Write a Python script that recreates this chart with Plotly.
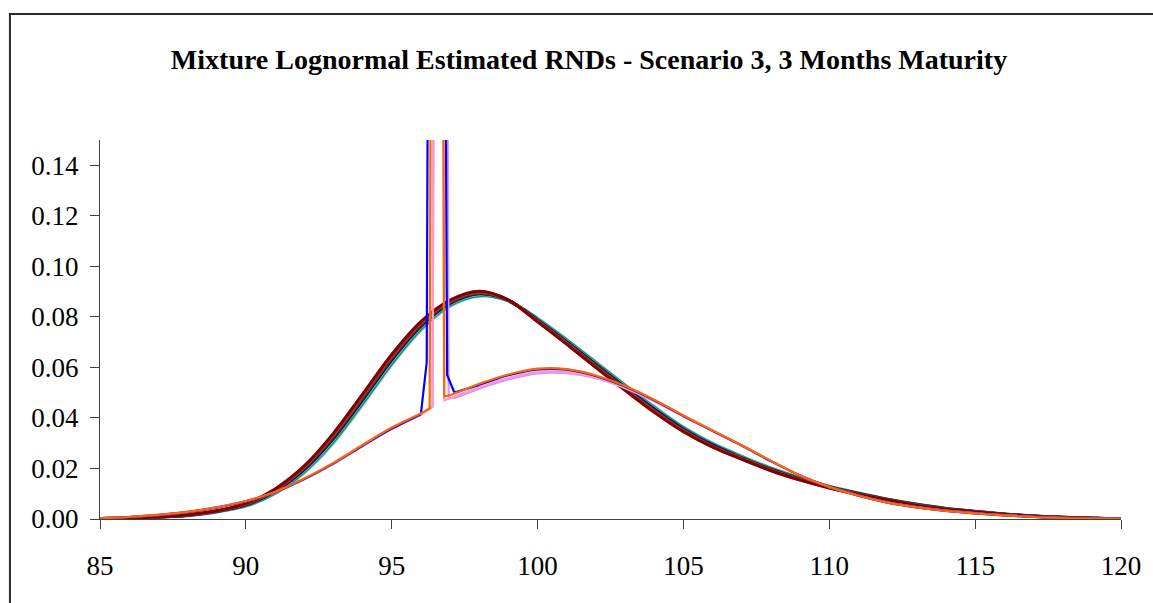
import plotly.graph_objects as go

# ---------------- data ----------------
x_grid = list(range(85, 121))          # strike grid for the bundle of smooth RNDs

# bundle of well-behaved mixture-lognormal RNDs (values at 85..120)
rnd_lightgreen = [.0002,.0004,.0007,.0013,.0027,.0050,.0098,.0180,.0297,.0447,.0606,.0744,.0840,.0880,.0862,.0796,.0713,.0624,.0534,.0447,.0366,.0301,.0250,.0203,.0164,.0131,.0104,.0079,.0059,.0043,.0031,.0020,.0012,.0007,.0003,.0001]
rnd_gray       = [.0002,.0004,.0007,.0013,.0028,.0051,.0101,.0184,.0302,.0453,.0611,.0748,.0843,.0883,.0863,.0794,.0710,.0621,.0531,.0444,.0363,.0299,.0248,.0202,.0163,.0130,.0103,.0078,.0058,.0043,.0031,.0020,.0012,.0007,.0003,.0001]
rnd_teal       = [.0002,.0004,.0008,.0014,.0029,.0053,.0103,.0188,.0308,.0459,.0617,.0753,.0847,.0885,.0863,.0792,.0708,.0618,.0528,.0441,.0361,.0297,.0247,.0200,.0162,.0129,.0102,.0078,.0058,.0042,.0030,.0020,.0012,.0007,.0003,.0001]
rnd_cyan       = [.0002,.0004,.0008,.0015,.0029,.0055,.0106,.0191,.0313,.0465,.0623,.0758,.0850,.0888,.0864,.0790,.0705,.0615,.0525,.0438,.0358,.0295,.0245,.0198,.0160,.0128,.0101,.0077,.0057,.0041,.0030,.0019,.0012,.0007,.0003,.0001]
rnd_navy       = [.0002,.0004,.0008,.0015,.0030,.0056,.0109,.0195,.0318,.0471,.0629,.0763,.0853,.0891,.0865,.0788,.0702,.0612,.0522,.0435,.0356,.0293,.0243,.0197,.0159,.0127,.0101,.0077,.0057,.0041,.0030,.0019,.0012,.0007,.0003,.0001]
rnd_olive      = [.0002,.0004,.0008,.0015,.0031,.0057,.0111,.0199,.0323,.0476,.0634,.0767,.0856,.0893,.0865,.0786,.0699,.0609,.0519,.0432,.0353,.0290,.0241,.0196,.0158,.0126,.0100,.0076,.0056,.0041,.0029,.0019,.0011,.0006,.0003,.0001]
rnd_brown      = [.0002,.0004,.0008,.0016,.0032,.0059,.0114,.0203,.0329,.0482,.0640,.0772,.0860,.0896,.0866,.0784,.0697,.0605,.0515,.0428,.0350,.0288,.0240,.0194,.0157,.0125,.0099,.0075,.0055,.0040,.0029,.0019,.0011,.0006,.0003,.0001]
rnd_plum       = [.0002,.0004,.0009,.0017,.0032,.0061,.0116,.0206,.0334,.0488,.0646,.0777,.0863,.0898,.0866,.0782,.0694,.0602,.0512,.0425,.0348,.0286,.0238,.0192,.0155,.0124,.0098,.0075,.0055,.0039,.0028,.0018,.0011,.0006,.0003,.0001]
rnd_maroon     = [.0002,.0004,.0009,.0017,.0033,.0062,.0119,.0210,.0339,.0494,.0651,.0781,.0866,.0901,.0867,.0780,.0691,.0599,.0509,.0422,.0345,.0284,.0236,.0191,.0154,.0123,.0097,.0074,.0054,.0039,.0028,.0018,.0011,.0006,.0003,.0001]

# degenerate (spiked) RNDs: left tail 85..96, spike segment, right tail 98..120
x_left = list(range(85, 97))
x_right = list(range(98, 121))

lav_left   = [.0003,.0009,.0017,.0029,.0047,.0071,.0106,.0157,.0218,.0288,.0356,.0412]
lav_spk_x  = [96.4, 96.7, 96.95, 97.15]
lav_spk_y  = [.0445, 1.0, .0478, .0478]
lav_right  = [.0516,.0552,.0576,.0577,.0557,.0518,.0466,.0406,.0348,.0291,.0229,.0172,.0127,.0093,.0066,.0047,.0033,.0023,.0015,.0009,.0005,.0002,.0001]

pink_left  = [.0003,.0008,.0015,.0027,.0045,.0070,.0106,.0158,.0219,.0290,.0358,.0414]
pink_spk_x = [96.4, 96.6, 96.8, 97.0]
pink_spk_y = [.0450, 1.0, .0470, .0478]
pink_right = [.0522,.0558,.0582,.0582,.0560,.0520,.0467,.0406,.0348,.0290,.0229,.0171,.0127,.0092,.0065,.0046,.0032,.0022,.0014,.0008,.0004,.0002,.0001]

blue_left  = [.0003,.0008,.0015,.0027,.0045,.0070,.0106,.0158,.0220,.0290,.0358,.0415]
blue_spk_x = [96.2, 96.5, 96.9, 97.15]
blue_spk_y = [.0620, 1.0, .0570, .0500]
blue_right = [.0531,.0569,.0592,.0591,.0566,.0524,.0470,.0408,.0349,.0291,.0229,.0172,.0127,.0092,.0065,.0046,.0032,.0022,.0014,.0008,.0004,.0002,.0001]

orng_left  = [.0003,.0008,.0016,.0028,.0046,.0071,.0107,.0160,.0222,.0293,.0362,.0418]
orng_spk_x = [96.3, 96.55, 96.8, 97.0]
orng_spk_y = [.0437, 1.0, .0485, .0490]
orng_right = [.0535,.0572,.0595,.0593,.0568,.0526,.0472,.0410,.0350,.0292,.0230,.0172,.0127,.0092,.0065,.0046,.0032,.0022,.0014,.0008,.0004,.0002,.0001]

y_ticks = [0.00, 0.02, 0.04, 0.06, 0.08, 0.10, 0.12, 0.14]
x_ticks = [85, 90, 95, 100, 105, 110, 115, 120]
title_text = "Mixture Lognormal Estimated RNDs - Scenario 3, 3 Months Maturity"

# ---------------- figure ----------------
FONT = "Liberation Serif, Times New Roman, serif"
fig = go.Figure()

bundle = [
    (rnd_lightgreen, "#CCFFCC"), (rnd_gray, "#969696"), (rnd_teal, "#008080"),
    (rnd_cyan, "#33CCCC"), (rnd_navy, "#000080"), (rnd_olive, "#333300"),
    (rnd_brown, "#993300"), (rnd_plum, "#993366"), (rnd_maroon, "#800000"),
]
for ys, col in bundle:
    fig.add_trace(go.Scatter(x=x_grid, y=ys, mode="lines",
                             line=dict(color=col, width=3, shape="spline", smoothing=0.9),
                             showlegend=False, hoverinfo="skip"))

spiked = [
    (lav_left, lav_spk_x, lav_spk_y, lav_right, "#CC99FF"),
    (pink_left, pink_spk_x, pink_spk_y, pink_right, "#FF99CC"),
    (blue_left, blue_spk_x, blue_spk_y, blue_right, "#0000FF"),
    (orng_left, orng_spk_x, orng_spk_y, orng_right, "#FF6600"),
]
for left, sx, sy, right, col in spiked:
    w = 2.2
    fig.add_trace(go.Scatter(x=x_left, y=left, mode="lines",
                             line=dict(color=col, width=w, shape="spline", smoothing=0.8),
                             showlegend=False, hoverinfo="skip"))
    fig.add_trace(go.Scatter(x=[x_left[-1]] + sx + [x_right[0]],
                             y=[left[-1]] + sy + [right[0]], mode="lines",
                             line=dict(color=col, width=w),
                             showlegend=False, hoverinfo="skip"))
    fig.add_trace(go.Scatter(x=x_right, y=right, mode="lines",
                             line=dict(color=col, width=w, shape="spline", smoothing=0.8),
                             showlegend=False, hoverinfo="skip"))

# outer chart-area frame (top and left edges visible)
fig.add_shape(type="rect", xref="paper", yref="paper",
              x0=(9.5 - 100) / 1026, x1=1.2, y0=-0.5, y1=(519 - 14) / 379,
              line=dict(color="#2a2a2a", width=2), layer="below")

fig.update_layout(
    width=1153, height=603,
    margin=dict(l=100, r=27, t=140, b=84),
    paper_bgcolor="white", plot_bgcolor="white",
    font=dict(family=FONT, size=27, color="black"),
    title=dict(text="<b>" + title_text + "</b>", x=589 / 1153, xref="container", xanchor="center",
               y=1 - 59 / 603, yref="container", yanchor="middle",
               font=dict(family=FONT, size=28, color="black")),
)
fig.update_xaxes(range=[85, 120], tickvals=x_ticks, ticktext=[str(v) for v in x_ticks],
                 showgrid=False, zeroline=False, showline=True, linecolor="#404040", linewidth=1,
                 ticks="outside", ticklen=9, tickcolor="#404040", tickwidth=1,
                 ticklabelstandoff=14, tickfont=dict(family=FONT, size=27, color="black"))
fig.update_yaxes(range=[0, 0.15], tickvals=y_ticks, ticktext=[f"{v:.2f}" for v in y_ticks],
                 showgrid=False, zeroline=False, showline=True, linecolor="#404040", linewidth=1,
                 ticks="outside", ticklen=9, tickcolor="#404040", tickwidth=1,
                 ticklabelstandoff=6, tickfont=dict(family=FONT, size=27, color="black"))

fig.write_html("out.html")
